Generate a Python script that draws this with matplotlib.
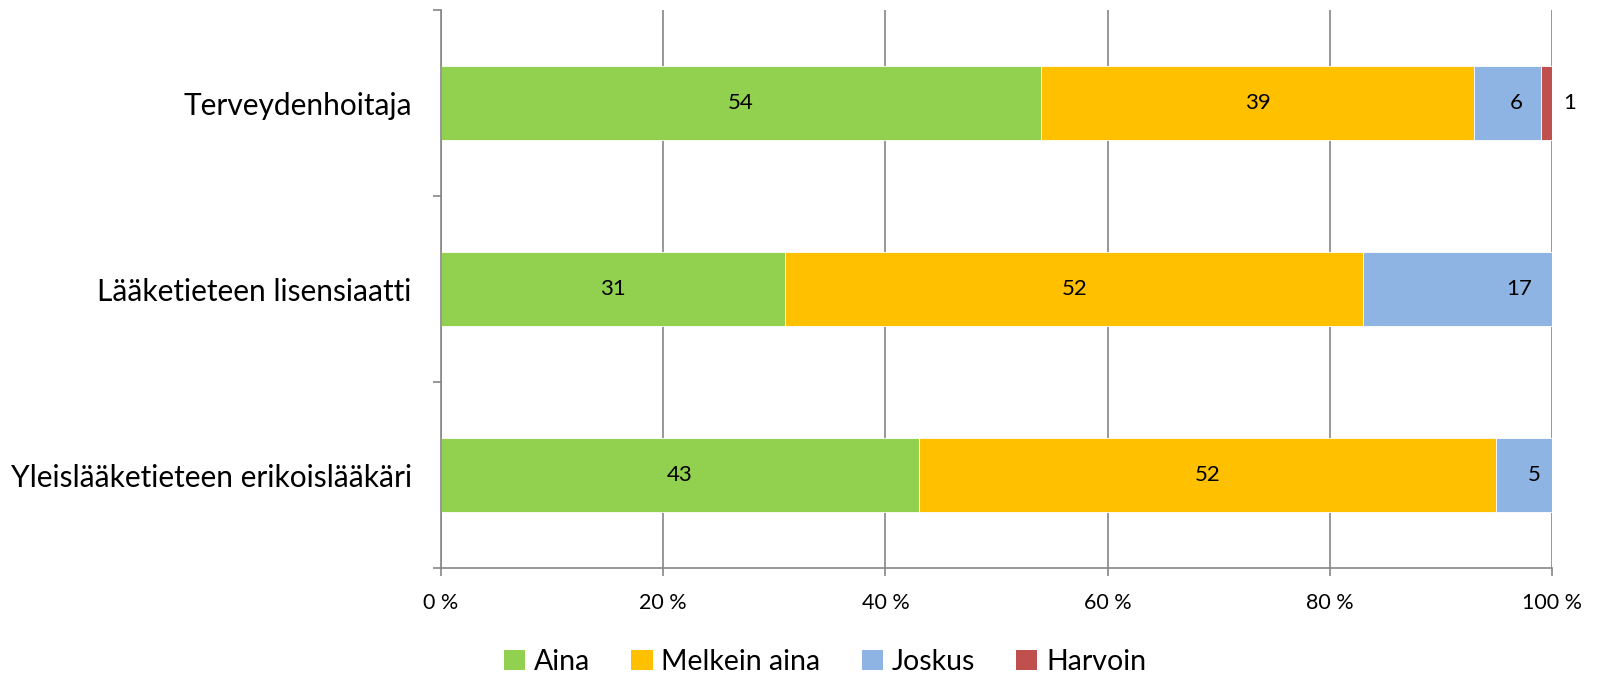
import matplotlib
matplotlib.use("Agg")
import matplotlib.pyplot as plt
from matplotlib.patches import Patch
import numpy as np

plt.rcParams['font.family'] = ['Lato', 'DejaVu Sans']

categories = ["Terveydenhoitaja", "Lääketieteen lisensiaatti", "Yleislääketieteen erikoislääkäri"]
series_names = ["Aina", "Melkein aina", "Joskus", "Harvoin"]
aina = [54, 31, 43]
melkein = [39, 52, 52]
joskus = [6, 17, 5]
harvoin = [1, 0, 0]
colors = ["#92D050", "#FFC000", "#8EB4E3", "#C0504D"]
xticks = [0, 20, 40, 60, 80, 100]
xticklabels = ["0 %", "20 %", "40 %", "60 %", "80 %", "100 %"]

series = [aina, melkein, joskus, harvoin]

fig = plt.figure(figsize=(15.99, 6.75), dpi=100)
ax = fig.add_axes([441/1599, 1 - 568/675, (1552 - 441)/1599, (568 - 10)/675])

y = np.arange(len(categories))
left = np.zeros(len(categories))
# label offsets (points) mimicking reference placement
label_dx = {(2, 1): 44, (3, 0): 13, (2, 0): 6, (2, 2): 7}
for si, (vals, col) in enumerate(zip(series, colors)):
    vals = np.array(vals, dtype=float)
    ax.barh(y, vals, left=left, height=0.4, color=col, edgecolor='white', linewidth=0.6, zorder=3)
    for ci, v in enumerate(vals):
        if v > 0:
            cx = left[ci] + v / 2
            dx = label_dx.get((si, ci), 0)
            if si == 3:
                cx = left[ci] + v
            ax.annotate(f"{int(v)}", (cx, y[ci]), xytext=(dx, 0), textcoords='offset points',
                        ha='center', va='center', fontsize=16, color='black', zorder=4)
    left += vals

ax.set_xlim(0, 100)
ax.set_ylim(len(categories) - 0.5, -0.5)
ax.set_xticks(xticks)
ax.set_xticklabels(xticklabels, fontsize=15.5)
ax.set_yticks(y)
ax.set_yticklabels(categories, fontsize=21.5)
ax.set_yticks(np.arange(-0.5, len(categories)), minor=True)
ax.tick_params(axis='y', which='major', length=0, pad=21)
ax.tick_params(axis='y', which='minor', length=6, width=1.2, color='#868686')
ax.tick_params(axis='x', length=6, width=1.2, color='#868686', pad=12)
ax.grid(axis='x', color='#868686', linewidth=1.2, zorder=0)
for s in ['top', 'right']:
    ax.spines[s].set_visible(False)
for s in ['left', 'bottom']:
    ax.spines[s].set_color('#868686')
    ax.spines[s].set_linewidth(1.2)
    ax.spines[s].set_zorder(5)

handles = [Patch(facecolor=c, edgecolor='none') for c in colors]
fig.legend(handles, series_names, loc='center', bbox_to_anchor=(825/1599, 1 - 662/675),
           ncol=4, frameon=False, fontsize=20.5, handlelength=0.75, handleheight=0.75,
           handletextpad=0.3, columnspacing=1.45)

fig.savefig("out.png", dpi=100)
